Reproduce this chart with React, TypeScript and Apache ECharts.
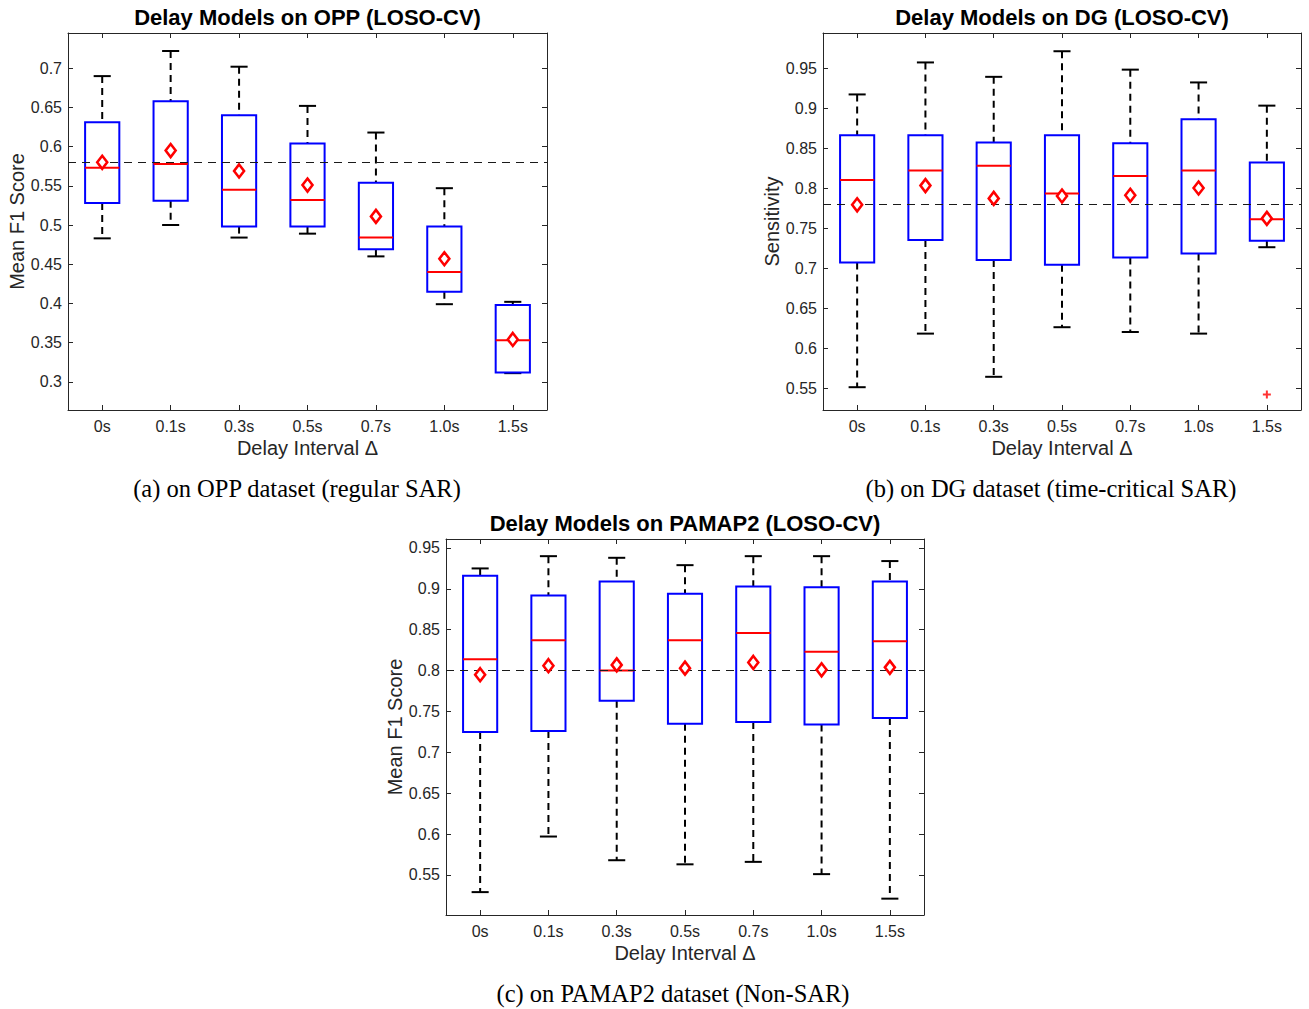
import React, { useEffect, useRef } from "react";
import * as echarts from "echarts";

const categories = ["0s", "0.1s", "0.3s", "0.5s", "0.7s", "1.0s", "1.5s"];

// OPP (panel a)
const oppLower = [0.483, 0.5, 0.484, 0.489, 0.46, 0.399, 0.311];
const oppQ1 = [0.528, 0.531, 0.498, 0.498, 0.469, 0.415, 0.312];
const oppMedian = [0.573, 0.578, 0.545, 0.532, 0.484, 0.44, 0.353];
const oppQ3 = [0.631, 0.658, 0.64, 0.604, 0.554, 0.498, 0.398];
const oppUpper = [0.69, 0.722, 0.702, 0.652, 0.618, 0.547, 0.402];
const oppMean = [0.58, 0.595, 0.569, 0.551, 0.511, 0.457, 0.354];
const oppRef = 0.579;
const oppTicks = [0.3, 0.35, 0.4, 0.45, 0.5, 0.55, 0.6, 0.65, 0.7];

// DG (panel b)
const dgLower = [0.551, 0.618, 0.564, 0.626, 0.62, 0.618, 0.726];
const dgQ1 = [0.707, 0.735, 0.71, 0.704, 0.713, 0.718, 0.734];
const dgMedian = [0.81, 0.822, 0.828, 0.793, 0.815, 0.822, 0.761];
const dgQ3 = [0.866, 0.866, 0.857, 0.866, 0.856, 0.886, 0.832];
const dgUpper = [0.917, 0.957, 0.939, 0.971, 0.948, 0.932, 0.903];
const dgMean = [0.779, 0.803, 0.787, 0.79, 0.791, 0.8, 0.762];
const dgOutliers = [[6, 0.542]];
const dgRef = 0.7785;
const dgTicks = [0.55, 0.6, 0.65, 0.7, 0.75, 0.8, 0.85, 0.9, 0.95];

// PAMAP2 (panel c)
const pamLower = [0.529, 0.597, 0.568, 0.563, 0.566, 0.551, 0.521];
const pamQ1 = [0.725, 0.726, 0.763, 0.735, 0.737, 0.734, 0.742];
const pamMedian = [0.814, 0.837, 0.8, 0.837, 0.846, 0.823, 0.836];
const pamQ3 = [0.916, 0.892, 0.909, 0.894, 0.903, 0.902, 0.909];
const pamUpper = [0.925, 0.94, 0.938, 0.929, 0.94, 0.94, 0.934];
const pamMean = [0.795, 0.806, 0.807, 0.803, 0.81, 0.801, 0.804];
const pamRef = 0.796;
const pamTicks = [0.55, 0.6, 0.65, 0.7, 0.75, 0.8, 0.85, 0.9, 0.95];

const SANS = "'Liberation Sans', Arial, Helvetica, sans-serif";
const SERIF = "'Liberation Serif', 'Times New Roman', serif";
const AXIS_COLOR = "#262626";

const panels = [
  {
    title: "Delay Models on OPP (LOSO-CV)",
    caption: "(a) on OPP dataset (regular SAR)",
    yName: "Mean F1 Score",
    lower: oppLower, q1: oppQ1, median: oppMedian, q3: oppQ3, upper: oppUpper, mean: oppMean,
    ref: oppRef, ticks: oppTicks, yMin: 0.264, yMax: 0.745, outliers: [] as number[][],
    grid: { left: 68, top: 33, width: 479, height: 377 },
    captionPos: [297, 488],
  },
  {
    title: "Delay Models on DG (LOSO-CV)",
    caption: "(b) on DG dataset (time-critical SAR)",
    yName: "Sensitivity",
    lower: dgLower, q1: dgQ1, median: dgMedian, q3: dgQ3, upper: dgUpper, mean: dgMean,
    ref: dgRef, ticks: dgTicks, yMin: 0.5225, yMax: 0.9938, outliers: dgOutliers,
    grid: { left: 823, top: 33, width: 478, height: 377 },
    captionPos: [1051, 488],
  },
  {
    title: "Delay Models on PAMAP2 (LOSO-CV)",
    caption: "(c) on PAMAP2 dataset (Non-SAR)",
    yName: "Mean F1 Score",
    lower: pamLower, q1: pamQ1, median: pamMedian, q3: pamQ3, upper: pamUpper, mean: pamMean,
    ref: pamRef, ticks: pamTicks, yMin: 0.501, yMax: 0.961, outliers: [] as number[][],
    grid: { left: 446, top: 539, width: 478, height: 376 },
    captionPos: [673, 993],
  },
];

function renderBox(params: any, api: any) {
  const i = api.value(0);
  const lo = api.value(1);
  const q1 = api.value(2);
  const med = api.value(3);
  const q3 = api.value(4);
  const hi = api.value(5);
  const band = api.size([1, 0])[0];
  const hw = band * 0.25;
  const cw = band * 0.125;
  const pLo = api.coord([i, lo]);
  const pQ1 = api.coord([i, q1]);
  const pMed = api.coord([i, med]);
  const pQ3 = api.coord([i, q3]);
  const pHi = api.coord([i, hi]);
  const x = pLo[0];
  const dash = { stroke: "#000", lineWidth: 2, lineDash: [7, 5], fill: null };
  const solid = { stroke: "#000", lineWidth: 2, fill: null };
  return {
    type: "group",
    children: [
      { type: "line", shape: { x1: x, y1: pHi[1], x2: x, y2: pQ3[1] }, style: dash },
      { type: "line", shape: { x1: x, y1: pQ1[1], x2: x, y2: pLo[1] }, style: dash },
      { type: "line", shape: { x1: x - cw, y1: pHi[1], x2: x + cw, y2: pHi[1] }, style: solid },
      { type: "line", shape: { x1: x - cw, y1: pLo[1], x2: x + cw, y2: pLo[1] }, style: solid },
      {
        type: "rect",
        shape: { x: x - hw, y: pQ3[1], width: hw * 2, height: pQ1[1] - pQ3[1] },
        style: { stroke: "#0000ff", lineWidth: 2, fill: "rgba(0,0,0,0)" },
      },
      {
        type: "line",
        shape: { x1: x - hw, y1: pMed[1], x2: x + hw, y2: pMed[1] },
        style: { stroke: "#ff0000", lineWidth: 2 },
      },
    ],
  };
}

const fmt = (v: number) => String(+v.toFixed(2));

function buildOption() {
  const grid: any[] = [];
  const xAxis: any[] = [];
  const yAxis: any[] = [];
  const series: any[] = [];
  const graphic: any[] = [];

  panels.forEach((p, k) => {
    grid.push({ ...p.grid, show: false, containLabel: false });
    const tickStyle = { show: true, inside: true, length: 5, lineStyle: { color: AXIS_COLOR, width: 1 } };
    xAxis.push({
      type: "category",
      gridIndex: k,
      data: categories,
      position: "bottom",
      boundaryGap: true,
      axisLine: { show: true, onZero: false, lineStyle: { color: AXIS_COLOR, width: 1 } },
      axisTick: { ...tickStyle, alignWithLabel: true },
      axisLabel: { color: AXIS_COLOR, fontSize: 16, fontFamily: SANS, margin: 8 },
      splitLine: { show: false },
      name: "Delay Interval Δ",
      nameLocation: "middle",
      nameGap: 28,
      nameTextStyle: { color: AXIS_COLOR, fontSize: 20, fontFamily: SANS },
    });
    xAxis.push({
      type: "category",
      gridIndex: k,
      data: categories,
      position: "top",
      boundaryGap: true,
      axisLine: { show: true, onZero: false, lineStyle: { color: AXIS_COLOR, width: 1 } },
      axisTick: { ...tickStyle, alignWithLabel: true },
      axisLabel: { show: false },
      splitLine: { show: false },
    });
    yAxis.push({
      type: "value",
      gridIndex: k,
      min: p.yMin,
      max: p.yMax,
      position: "left",
      axisLine: { show: true, lineStyle: { color: AXIS_COLOR, width: 1 } },
      axisTick: { ...tickStyle, customValues: p.ticks },
      axisLabel: {
        color: AXIS_COLOR,
        fontSize: 16,
        fontFamily: SANS,
        margin: 6,
        customValues: p.ticks,
        formatter: (v: number) => fmt(v),
      },
      splitLine: { show: false },
      name: p.yName,
      nameLocation: "middle",
      nameGap: 40,
      nameTextStyle: { color: AXIS_COLOR, fontSize: 20, fontFamily: SANS },
    });
    yAxis.push({
      type: "value",
      gridIndex: k,
      min: p.yMin,
      max: p.yMax,
      position: "right",
      axisLine: { show: true, lineStyle: { color: AXIS_COLOR, width: 1 } },
      axisTick: { ...tickStyle, customValues: p.ticks },
      axisLabel: { show: false },
      splitLine: { show: false },
    });

    const xi = k * 2;
    const yi = k * 2;
    const boxData = categories.map((_, i) => [i, p.lower[i], p.q1[i], p.median[i], p.q3[i], p.upper[i]]);
    series.push({
      type: "custom",
      name: p.title + " boxes",
      xAxisIndex: xi,
      yAxisIndex: yi,
      renderItem: renderBox,
      data: boxData,
      z: 2,
      silent: true,
    });
    series.push({
      type: "scatter",
      name: p.title + " mean",
      xAxisIndex: xi,
      yAxisIndex: yi,
      data: categories.map((_, i) => [i, p.mean[i]]),
      symbol: "diamond",
      symbolSize: [10, 13],
      itemStyle: { color: "#ffffff", borderColor: "#ff0000", borderWidth: 2.6, opacity: 1 },
      z: 4,
      silent: true,
      markLine: {
        silent: true,
        symbol: ["none", "none"],
        label: { show: false },
        lineStyle: { color: "#1a1a1a", type: [8, 6], width: 1 },
        data: [{ yAxis: p.ref }],
        z: 3,
      },
    });
    if (p.outliers.length) {
      series.push({
        type: "scatter",
        name: p.title + " outliers",
        xAxisIndex: xi,
        yAxisIndex: yi,
        data: p.outliers,
        symbol: "path://M-1,-4H1V-1H4V1H1V4H-1V1H-4V-1H-1Z",
        symbolSize: 8,
        itemStyle: { color: "#ff0000" },
        z: 4,
        silent: true,
      });
    }

    graphic.push({
      type: "text",
      x: p.grid.left + p.grid.width / 2,
      y: p.grid.top - 16,
      style: {
        text: p.title,
        fill: "#000",
        font: `bold 22px ${SANS}`,
        align: "center",
        verticalAlign: "middle",
      },
    });
    graphic.push({
      type: "text",
      x: p.captionPos[0],
      y: p.captionPos[1],
      style: {
        text: p.caption,
        fill: "#000",
        font: `24.5px ${SERIF}`,
        align: "center",
        verticalAlign: "middle",
      },
    });
  });

  return {
    animation: false,
    backgroundColor: "#ffffff",
    textStyle: { fontFamily: SANS },
    grid,
    xAxis,
    yAxis,
    series,
    graphic,
  };
}

export default function App() {
  const ref = useRef<HTMLDivElement>(null);
  useEffect(() => {
    if (!ref.current) return;
    const chart = echarts.init(ref.current, undefined, { renderer: "svg" });
    chart.setOption(buildOption() as any);
    return () => chart.dispose();
  }, []);
  return (
    <div
      ref={ref}
      style={{ position: "absolute", left: 0, top: 0, width: 1309, height: 1009, background: "#fff" }}
    />
  );
}
